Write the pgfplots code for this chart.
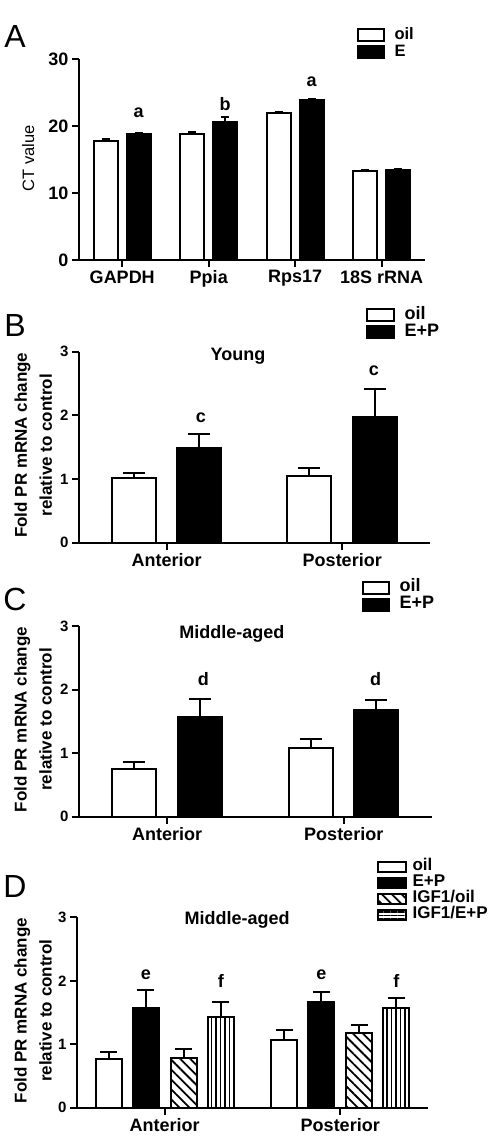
\documentclass[border=0pt]{standalone}
\usepackage{fontspec}
\setmainfont{Liberation Sans}
\usepackage{pgfplots}
\pgfplotsset{compat=1.18}
\usetikzlibrary{patterns.meta}
\newcommand{\fs}[1]{\fontsize{#1}{#1}\selectfont}
\tikzset{sig/.style={font=\bfseries\fs{18}}}
\pgfplotsset{
  panel/.style={
    scale only axis, axis lines=left, axis line style={-, line width=2.2pt},
    tick style={line width=2pt, black}, tick align=outside, major tick length=7pt,
    enlargelimits=false, clip=false, ymin=0,
    /pgf/number format/assume math mode=true,
    yticklabel style={font=\bfseries\fs{15}},
    xticklabel style={font=\bfseries\fs{18}},
    every axis y label/.style={at={(axis description cs:-0.13,0.51)}, rotate=90, anchor=center, align=center,
      font=\bfseries\fontsize{17}{25}\selectfont},
    legend style={draw=none, fill=none, inner sep=0pt, outer sep=0pt, anchor=north west,
      font=\bfseries\fs{16.5}, nodes={inner sep=0.5pt, text height=11pt, text depth=3pt},
      row sep=2pt, legend cell align=left,
      /tikz/every odd column/.append style={column sep=9pt}},
  },
  bars/.style={ybar, draw=black, line width=2pt},
  errs/.style={forget plot, draw=none, mark=none,
    error bars/y dir=plus, error bars/y explicit,
    error bars/error bar style={draw=black, line width=2pt, solid},
    error bars/error mark options={draw=black, line width=2pt, solid, rotate=90, mark size=#1}},
  leg/.style 2 args={legend image code/.code={\draw[##1, line width=2pt] (0pt,-#2) rectangle (#1,#2);}},
}
\begin{document}
\begin{tikzpicture}
\useasboundingbox (0pt,0pt) rectangle (500pt,1136pt);
% ---------------- A ----------------
\begin{axis}[panel, at={(79pt,876pt)}, anchor=south west, width=346pt, height=200.7pt,
  xmin=-0.5, xmax=3.5, ymax=30, ytick={0,10,20,30},
  xtick={0,1,2,3}, xticklabels={GAPDH,Ppia,Rps17,18S rRNA},
  yticklabel style={font=\bfseries\fs{18}},
  ylabel={CT value},
  every axis y label/.style={at={(axis description cs:-0.147,0.508)}, rotate=90, anchor=center, font=\fs{16.5}},
  legend style={at={(axis description cs:0.8035,1.156)}}]
\addplot[bars, fill=white, bar width=24pt, bar shift=-16.5pt, leg={26pt}{6pt}] coordinates {
  (0,17.8) (1,18.9) (2,21.9) (3,13.3)};
\addlegendentry{oil}
\addplot[bars, fill=black, bar width=24pt, bar shift=16.5pt, leg={26pt}{6pt}] coordinates {
  (0,18.8) (1,20.7) (2,23.9) (3,13.5)};
\addlegendentry{E}
\addplot[errs=4pt] coordinates {
  (-0.191,17.8) +- (0,0.25) (0.809,18.9) +- (0,0.25) (1.809,21.9) +- (0,0.25) (2.809,13.3) +- (0,0.1)};
\addplot[errs=4pt] coordinates {
  (0.191,18.8) +- (0,0.2) (1.191,20.7) +- (0,0.6) (2.191,23.9) +- (0,0.2) (3.191,13.5) +- (0,0.1)};
\node[sig] at (axis cs:0.19,22.0) {a};
\node[sig] at (axis cs:1.19,23.3) {b};
\node[sig] at (axis cs:2.19,26.6) {a};
\end{axis}
% ---------------- B ----------------
\begin{axis}[panel, at={(79pt,593.3pt)}, anchor=south west, width=351pt, height=191pt,
  xmin=-0.5, xmax=1.5, ymax=3, ytick={0,1,2,3},
  xtick={0,1}, xticklabels={Anterior,Posterior},
  ylabel={Fold PR mRNA change\\ relative to control},
  legend style={at={(axis description cs:0.818,1.231)}, font=\bfseries\fs{18}}]
\addplot[bars, fill=white, bar width=44pt, bar shift=-33pt, leg={27pt}{6pt}] coordinates {
  (0,1.02) (1,1.04)};
\addlegendentry{oil}
\addplot[bars, fill=black, bar width=44pt, bar shift=32.5pt, leg={27pt}{6pt}] coordinates {
  (0,1.49) (1,1.98)};
\addlegendentry{E+P}
\addplot[errs=11pt] coordinates {(-0.188,1.02) +- (0,0.08) (0.812,1.04) +- (0,0.14)};
\addplot[errs=11pt] coordinates {(0.185,1.49) +- (0,0.21) (1.185,1.98) +- (0,0.44)};
\node[sig] at (rel axis cs:0.453,0.977) {Young};
\node[sig] at (axis cs:0.195,1.97) {c};
\node[sig] at (axis cs:1.18,2.70) {c};
\end{axis}
% ---------------- C ----------------
\begin{axis}[panel, at={(79pt,319.3pt)}, anchor=south west, width=353pt, height=190.7pt,
  xmin=-0.5, xmax=1.5, ymax=3, ytick={0,1,2,3},
  xtick={0,1}, xticklabels={Anterior,Posterior},
  ylabel={Fold PR mRNA change\\ relative to control},
  legend style={at={(axis description cs:0.802,1.239)}, font=\bfseries\fs{18}}]
\addplot[bars, fill=white, bar width=44pt, bar shift=-33pt, leg={26pt}{6pt}] coordinates {
  (0,0.745) (1,1.075)};
\addlegendentry{oil}
\addplot[bars, fill=black, bar width=44pt, bar shift=32.5pt, leg={26pt}{6pt}] coordinates {
  (0,1.57) (1,1.68)};
\addlegendentry{E+P}
\addplot[errs=11pt] coordinates {(-0.187,0.745) +- (0,0.12) (0.813,1.075) +- (0,0.145)};
\addplot[errs=11pt] coordinates {(0.184,1.57) +- (0,0.28) (1.184,1.68) +- (0,0.15)};
\node[sig] at (rel axis cs:0.433,0.958) {Middle-aged};
\node[sig] at (axis cs:0.205,2.17) {d};
\node[sig] at (axis cs:1.18,2.17) {d};
\end{axis}
% ---------------- D ----------------
\begin{axis}[panel, at={(77pt,28.3pt)}, anchor=south west, width=351pt, height=190.4pt,
  xmin=-0.5, xmax=1.5, ymax=3, ytick={0,1,2,3},
  xtick={0,1}, xticklabels={Anterior,Posterior},
  ylabel={Fold PR mRNA change\\ relative to control},
  every axis y label/.style={at={(axis description cs:-0.125,0.51)}, rotate=90, anchor=center, align=center,
    font=\bfseries\fontsize{17}{25}\selectfont},
  legend style={at={(axis description cs:0.855,1.306)}, font=\bfseries\fs{17},
    nodes={inner sep=0.5pt, text height=11pt, text depth=3pt}, row sep=1pt,
    /tikz/every odd column/.append style={column sep=5pt}}]
\addplot[bars, fill=white, bar width=26pt, bar shift=-56pt, leg={28pt}{5pt}] coordinates {
  (0,0.76) (1,1.07)};
\addlegendentry{oil}
\addplot[bars, fill=black, bar width=26pt, bar shift=-19pt, leg={28pt}{5pt}] coordinates {
  (0,1.57) (1,1.67)};
\addlegendentry{E+P}
\addplot[bars, fill=white, pattern={Lines[angle=-45,distance=7pt,line width=1.8pt]}, bar width=26pt, bar shift=19pt, leg={28pt}{5pt}] coordinates {
  (0,0.78) (1,1.17)};
\addlegendentry{IGF1/oil}
\addplot[bars, fill=white, pattern={Lines[angle=90,distance=4.5pt,line width=1.3pt]}, bar width=26pt, bar shift=56pt, leg={28pt}{5pt},
  legend image post style={pattern={Lines[angle=0,distance=3.5pt,line width=1.2pt]}}] coordinates {
  (0,1.43) (1,1.57)};
\addlegendentry{IGF1/E+P}
\addplot[errs=8.5pt] coordinates {(-0.319,0.76) +- (0,0.11) (0.681,1.07) +- (0,0.15)};
\addplot[errs=8.5pt] coordinates {(-0.108,1.57) +- (0,0.28) (0.892,1.67) +- (0,0.16)};
\addplot[errs=8.5pt] coordinates {(0.108,0.78) +- (0,0.14) (1.108,1.17) +- (0,0.13)};
\addplot[errs=8.5pt] coordinates {(0.319,1.43) +- (0,0.23) (1.319,1.57) +- (0,0.16)};
\node[sig] at (rel axis cs:0.456,0.986) {Middle-aged};
\node[sig] at (axis cs:-0.108,2.09) {e};
\node[sig] at (axis cs:0.32,1.99) {f};
\node[sig] at (axis cs:0.892,2.09) {e};
\node[sig] at (axis cs:1.32,1.99) {f};
\end{axis}
% panel letters
\node[font=\fs{32}] at (15pt,1099pt) {A};
\node[font=\fs{32}] at (15pt,811pt) {B};
\node[font=\fs{32}] at (15pt,537pt) {C};
\node[font=\fs{32}] at (15pt,250pt) {D};
\end{tikzpicture}
\end{document}
